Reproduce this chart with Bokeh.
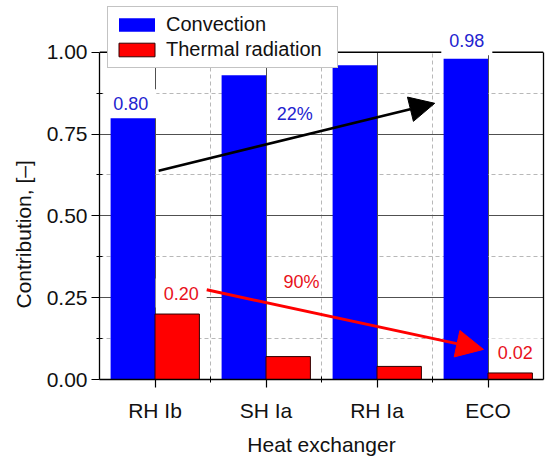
import numpy as np
from bokeh.plotting import figure
from bokeh.models import (Range1d, FixedTicker, Legend, LegendItem, Label, Arrow,
                          NormalHead, ColumnDataSource, Span, LinearAxis, Title)
from bokeh.embed import file_html
from bokeh.resources import INLINE

# ---- data ----
categories = ["RH Ib", "SH Ia", "RH Ia", "ECO"]
convection = [0.80, 0.93, 0.96, 0.98]
radiation = [0.20, 0.07, 0.04, 0.02]
y_ticks = [0.0, 0.25, 0.5, 0.75, 1.0]
y_tick_labels = ["0.00", "0.25", "0.50", "0.75", "1.00"]
y_minor = [0.125, 0.375, 0.625, 0.875]
pct_labels = ["22%", "90%"]

FONT = "Liberation Sans"
BLUE_TXT = "#2323cf"
RED_TXT = "#e8111a"

idx = np.arange(len(categories))
src = ColumnDataSource(dict(
    xc=idx - 0.2, xr=idx + 0.2, conv=convection, rad=radiation,
))

Y_TOP = 1.0
Y_END = 381.0 / 329.0  # extra room above 1.0 for the legend

p = figure(width=550, height=458, x_range=Range1d(-0.5, 3.5), y_range=Range1d(0, Y_END),
           output_backend="svg", toolbar_location=None, title=None,
           min_border_left=99, min_border_right=7, min_border_top=0, min_border_bottom=77)
p.outline_line_color = None
p.background_fill_color = "white"
p.border_fill_color = "white"

# tickers / grids
xt = FixedTicker(ticks=list(idx), minor_ticks=list(idx[:-1] + 0.5))
yt = FixedTicker(ticks=y_ticks, minor_ticks=y_minor)
p.xaxis.ticker = xt
p.yaxis.ticker = yt
p.yaxis.bounds = (0, Y_TOP)
p.xgrid.ticker = xt
p.ygrid.ticker = yt
for g in (p.xgrid, p.ygrid):
    g.grid_line_color = "#505050"
    g.grid_line_width = 1
    g.minor_grid_line_color = "#b8b8b8"
    g.minor_grid_line_dash = "4 3"
    g.minor_grid_line_width = 1
xg = p.xgrid[0]
if "cross_bounds" in xg.properties():
    xg.cross_bounds = (0, Y_TOP)
else:
    xg.visible = False
    p.segment(x0=idx, y0=0, x1=idx, y1=Y_TOP, line_color="#505050", line_width=1)
    mx = idx[:-1] + 0.5
    p.segment(x0=mx, y0=0, x1=mx, y1=Y_TOP, line_color="#b8b8b8", line_width=1,
              line_dash="4 3")

b1 = p.vbar(x="xc", top="conv", width=0.4, source=src, fill_color="#0000ff", line_color=None)
b2 = p.vbar(x="xr", top="rad", width=0.4, source=src, fill_color="#ff0000",
            line_color="#300000", line_width=1)

# axes
p.xaxis.major_label_overrides = {int(i): c for i, c in zip(idx, categories)}
p.yaxis.major_label_overrides = {t: l for t, l in zip(y_ticks, y_tick_labels)}
p.xaxis.axis_label = "Heat exchanger"
for ax in (p.xaxis[0], p.yaxis[0]):
    ax.axis_line_color = "black"
    ax.axis_line_width = 1.3
    ax.major_tick_out = 8
    ax.major_tick_in = 0
    ax.major_tick_line_color = "black"
    ax.major_tick_line_width = 1.2
    ax.minor_tick_in = 3
    ax.minor_tick_out = 3
    ax.minor_tick_line_color = "black"
    ax.major_label_text_font = FONT
    ax.major_label_text_font_size = "21px"
    ax.major_label_text_color = "#111111"
    ax.axis_label_text_font = FONT
    ax.axis_label_text_font_size = "21px"
    ax.axis_label_text_font_style = "normal"
    ax.axis_label_text_color = "#111111"
p.xaxis.major_label_standoff = 11
p.xaxis.axis_label_standoff = 8
p.yaxis.major_label_standoff = 4
p.yaxis.major_label_orientation = "horizontal"

# y title, placed along the 0..1 part of the axis like the reference
p.add_layout(Title(text="Contribution, [\u2013]", align="left", offset=71, standoff=18,
                   text_font=FONT, text_font_size="21px", text_font_style="normal",
                   text_color="#111111"), "left")

# right frame edge (only up to 1.0)
right = LinearAxis(bounds=(0, Y_TOP), ticker=FixedTicker(ticks=[]), major_tick_out=0,
                   major_tick_in=0, minor_tick_out=0, minor_tick_in=0,
                   major_label_standoff=0, major_label_text_font_size="0px",
                   axis_line_color="black", axis_line_width=1.3)
p.add_layout(right, "right")
# top frame edge at 1.0
p.add_layout(Span(location=Y_TOP, dimension="width", line_color="black", line_width=1.3))

# value labels
def vlabel(x, y, txt, color, xo, yo):
    lab = Label(x=x, y=y, text=txt, text_color=color, text_font=FONT, text_font_size="18px",
                text_align="center", text_baseline="middle", x_offset=xo, y_offset=yo,
                background_fill_color="white", padding=8)
    p.add_layout(lab)

vlabel(idx[0] - 0.2, convection[0], f"{convection[0]:.2f}", BLUE_TXT, -2, 14)
vlabel(idx[-1] - 0.2, convection[-1], f"{convection[-1]:.2f}", BLUE_TXT, 1, 18)
vlabel(idx[0] + 0.2, radiation[0], f"{radiation[0]:.2f}", RED_TXT, 4, 21)
vlabel(idx[-1] + 0.2, radiation[-1], f"{radiation[-1]:.2f}", RED_TXT, 5, 20)

# trend arrows
p.add_layout(Arrow(x_start=0.033, y_start=0.638, x_end=2.52, y_end=0.844,
                   line_color="black", line_width=2.6,
                   end=NormalHead(size=25, fill_color="black", line_color="black")))
p.add_layout(Arrow(x_start=0.466, y_start=0.274, x_end=2.959, y_end=0.092,
                   line_color="#ff0000", line_width=3,
                   end=NormalHead(size=27, fill_color="#ff0000", line_color="#ff0000")))
p.add_layout(Label(x=1.259, y=0.812, text=pct_labels[0], text_color=BLUE_TXT, text_font=FONT,
                   text_font_size="18px", text_align="center", text_baseline="middle"))
p.add_layout(Label(x=1.32, y=0.298, text=pct_labels[1], text_color=RED_TXT, text_font=FONT,
                   text_font_size="18px", text_align="center", text_baseline="middle"))

legend = Legend(items=[LegendItem(label="Convection", renderers=[b1]),
                       LegendItem(label="Thermal radiation", renderers=[b2])],
                location=(8, 311), border_line_color="#888888", border_line_width=1,
                background_fill_color="white", background_fill_alpha=1,
                label_text_font=FONT, label_text_font_size="20px", label_text_color="#111111",
                glyph_width=45, glyph_height=17, label_height=17, label_width=165,
                label_standoff=7, padding=6, spacing=2, margin=0)
p.add_layout(legend, "center")

open("out.html", "w").write(file_html(p, INLINE))
